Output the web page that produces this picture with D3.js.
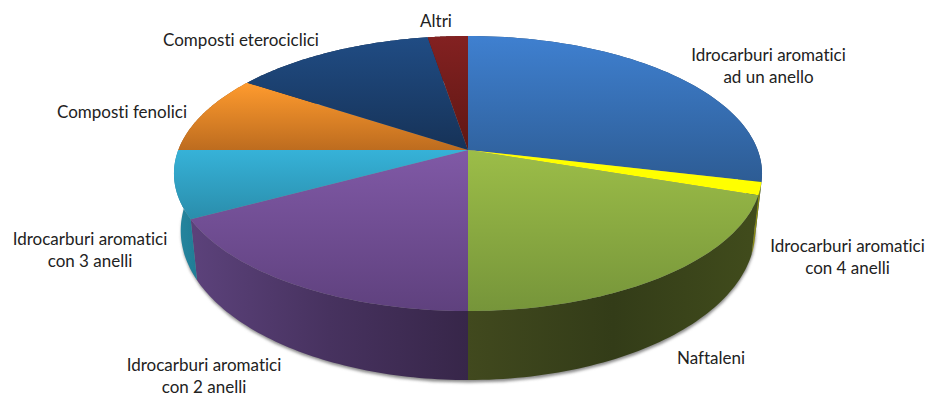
<!DOCTYPE html>
<html>
<head>
<meta charset="utf-8">
<script src="https://cdn.jsdelivr.net/npm/d3@7"></script>
<style>
  html, body { margin: 0; padding: 0; background: #fff; }
  svg { display: block; }
  text { font-family: Lato, "Open Sans", sans-serif; font-size: 17px; fill: #222; text-anchor: middle; font-variant-ligatures: none; }
</style>
</head>
<body>
<svg id="chart" width="928" height="396"></svg>
<script>
// Share of each compound family, clockwise from twelve o'clock (percent)
const categories = [
  "Idrocarburi aromatici ad un anello",
  "Idrocarburi aromatici con 4 anelli",
  "Naftaleni",
  "Idrocarburi aromatici con 2 anelli",
  "Idrocarburi aromatici con 3 anelli",
  "Composti fenolici",
  "Composti eterociclici",
  "Altri"
];
const shares = [28.7, 1.5, 19.8, 17.1, 7.9, 9.3, 13.1, 2.6];

// Label text broken over lines, with its centre
const labelLines = [
  ["Idrocarburi aromatici", "ad un anello"],
  ["Idrocarburi aromatici", "con 4 anelli"],
  ["Naftaleni"],
  ["Idrocarburi aromatici", "con 2 anelli"],
  ["Idrocarburi aromatici", "con 3 anelli"],
  ["Composti fenolici"],
  ["Composti eterociclici"],
  ["Altri"]
];
const labelCentres = [[768.5, 66], [847.5, 257], [711, 358], [204, 376], [90, 250], [122, 112], [241, 40], [436, 21]];

// Top-face fill gradient (upper, lower) and wall gradient (left, middle, right)
const faceColours = [
  ["#3f80d0", "#2d5c94"], ["#ffff00", "#ffff00"], ["#9cbd48", "#76953a"], ["#8059a6", "#5f417e"],
  ["#36b2d8", "#2a8dab"], ["#ff9b2e", "#bd6c1f"], ["#204c84", "#163257"], ["#832121", "#5f1713"]
];
const wallColours = [
  ["#23476f", "#23476f", "#23476f"], ["#8a8a10", "#8a8a10", "#8a8a10"], ["#41491e", "#333c18", "#414c1c"], ["#5c427b", "#47325f", "#372649"],
  ["#26869f", "#24829b", "#1f7d96"], ["#a05a1a", "#a05a1a", "#a05a1a"], ["#132a4a", "#132a4a", "#132a4a"], ["#4f1310", "#4f1310", "#4f1310"]
];

const cx = 468, apexY = 150;
const tilt = 0.171, halfW = 289.7, halfH = 133.5;

// Perspective view of the pie's top disc; a = clockwise angle from the back of the disc
function topRim(a) {
  const u = Math.sin(a), v = -Math.cos(a), w = 1 - tilt * v;
  return [cx + halfW * u / w, apexY + halfH * v / w];
}
// The lower disc sits further from the eye, slightly narrower and seen more steeply
function bottomRim(a) {
  const u = Math.sin(a), v = -Math.cos(a), w = 1 - tilt * v;
  return [cx + 0.977 * halfW * u / w, 205 + 1.087 * halfH * v / w];
}

const svg = d3.select("#chart");
const defs = svg.append("defs");
const line = d3.line();

const arcs = d3.pie().sort(null).value(d => d).startAngle(0).endAngle(2 * Math.PI)(shares);
const sweep = (s, e) => d3.range(0, 61).map(i => s + (e - s) * i / 60);

defs.append("filter").attr("id", "soft")
  .attr("x", "-5%").attr("y", "-5%").attr("width", "110%").attr("height", "110%")
  .append("feGaussianBlur").attr("stdDeviation", 1.8);

arcs.forEach((d, i) => {
  defs.append("linearGradient").attr("id", "face" + i)
    .attr("x1", 0).attr("y1", 0).attr("x2", 0).attr("y2", 1)
    .selectAll("stop").data(faceColours[i]).join("stop")
    .attr("offset", (c, j) => j).attr("stop-color", c => c);
  defs.append("linearGradient").attr("id", "wall" + i)
    .attr("x1", 0).attr("y1", 0).attr("x2", 1).attr("y2", 0)
    .selectAll("stop").data(wallColours[i]).join("stop")
    .attr("offset", (c, j) => j / 2).attr("stop-color", c => c);
});

// Drop shadow under the lower rim
svg.append("path")
  .attr("d", line(sweep(0, 2 * Math.PI).map(bottomRim).map(p => [p[0] + 0.5, p[1] + 2.5])) + "Z")
  .attr("fill", "#8a8a8a")
  .attr("filter", "url(#soft)");

// Walls first, so the top faces cover the parts turned away from the viewer
svg.append("g").selectAll("path").data(arcs).join("path")
  .attr("d", d => {
    const angles = sweep(d.startAngle, d.endAngle);
    return line(angles.map(topRim).concat(angles.slice().reverse().map(bottomRim))) + "Z";
  })
  .attr("fill", d => `url(#wall${d.index})`);

// Top faces
svg.append("g").selectAll("path").data(arcs).join("path")
  .attr("d", d => line([[cx, apexY]].concat(sweep(d.startAngle, d.endAngle).map(topRim))) + "Z")
  .attr("fill", d => `url(#face${d.index})`);

// Category labels
svg.append("g").selectAll("text").data(categories).join("text")
  .attr("transform", (c, i) => `translate(${labelCentres[i]})`)
  .each(function (c, i) {
    const rows = labelLines[i];
    d3.select(this).selectAll("tspan").data(rows).join("tspan")
      .attr("x", 0)
      .attr("y", (r, j) => (j - (rows.length - 1) / 2) * 22 + 5.5)
      .text(r => r);
  });
</script>
</body>
</html>
